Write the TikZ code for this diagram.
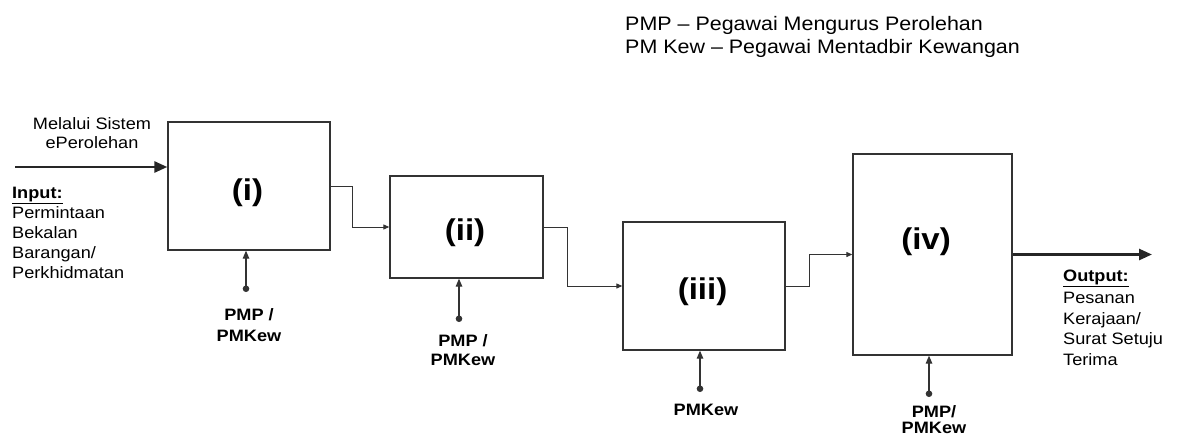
\documentclass[tikz,border=0pt]{standalone}
\usepackage{fontspec}
\setmainfont{Liberation Sans}
\newfontfamily\wfont[FakeStretch=1.1]{Liberation Sans}
\usetikzlibrary{arrows.meta}
\begin{document}
\begin{tikzpicture}[x=1pt,y=-1pt,
  procbox/.style={draw=black!80, line width=1.3pt, inner sep=0pt, fill=white},
  boxlabel/.style={font=\wfont\bfseries\fontsize{30}{32}\selectfont, inner sep=0pt, anchor=base},
  smalltext/.style={font=\wfont\fontsize{16.5}{20}\selectfont, inner sep=0pt, align=left, anchor=base west},
  whotext/.style={font=\wfont\bfseries\fontsize{16.5}{19}\selectfont, inner sep=0pt, align=center, anchor=base},
  thinarrow/.style={draw=black!80, line width=1pt, -{Triangle[length=6pt,width=5pt]}},
  thickarrow/.style={draw=black!85, line width=2.6pt, -{Triangle[length=13pt,width=11pt]}},
  feedarrow/.style={draw=black!80, line width=1.2pt, {Circle[length=6.5pt]}-{Triangle[length=8pt,width=6.5pt]}}
]
\useasboundingbox (0,0) rectangle (1182,441);

% legend (base anchor = last line's baseline)
\node[font=\wfont\fontsize{19.5}{23}\selectfont, inner sep=0pt, align=left, anchor=base west] (legend) at (625,54)
  {PMP – Pegawai Mengurus Perolehan\\PM Kew – Pegawai Mentadbir Kewangan};

% boxes
\node[procbox, minimum width=162pt, minimum height=128pt] (b1) at (249,186) {};
\node[procbox, minimum width=153pt, minimum height=102pt] (b2) at (466.5,227) {};
\node[procbox, minimum width=162pt, minimum height=128pt] (b3) at (704,286) {};
\node[procbox, minimum width=159pt, minimum height=201pt] (b4) at (932.5,254.5) {};

\node[boxlabel] (l1) at (247.5,200.5) {(i)};
\node[boxlabel] (l2) at (465,240.5) {(ii)};
\node[boxlabel] (l3) at (702.5,299) {(iii)};
\node[boxlabel] (l4) at (926,249) {(iv)};

% flow connectors
\draw[thinarrow] (b1.east) -- ++(22,0) |- (b2.west);
\draw[thinarrow] (b2.east) -- ++(24,0) |- (b3.west);
\draw[thinarrow] (b3.east) -- ++(24,0) |- (b4.west);

% input / output
\coordinate (inS) at (15,167);
\draw[thickarrow] (inS) -- (inS -| b1.west);
\coordinate (outE) at (1152,254.5);
\draw[thickarrow] (b4.east) -- (outE);

\node[smalltext, align=center, anchor=base] (via) at (92,148) {Melalui Sistem\\[-1pt]ePerolehan};
\node[smalltext] (input) at (12,278) {\underline{\textbf{Input:}}\\Permintaan\\Bekalan\\Barangan/\\Perkhidmatan};
\node[smalltext, font=\wfont\fontsize{16.5}{20.5}\selectfont] (output) at (1063,365) {\underline{\textbf{Output:}}\\[2pt]Pesanan\\Kerajaan/\\Surat Setuju\\Terima};

% responsible officers
\coordinate (d1) at (246,292);
\coordinate (d2) at (459,322);
\coordinate (d3) at (700,392);
\coordinate (d4) at (929,397);
\draw[feedarrow] (d1) -- (d1 |- b1.south);
\draw[feedarrow] (d2) -- (d2 |- b2.south);
\draw[feedarrow] (d3) -- (d3 |- b3.south);
\draw[feedarrow] (d4) -- (d4 |- b4.south);

\node[whotext] (w1) at (249,341) {PMP /\\[2pt]PMKew};
\node[whotext] (w2) at (463,365) {PMP /\\PMKew};
\node[whotext] (w3) at (706,415) {PMKew};
\node[whotext] (w4) at (934,433) {PMP/\\[-3pt]PMKew};
\end{tikzpicture}
\end{document}
